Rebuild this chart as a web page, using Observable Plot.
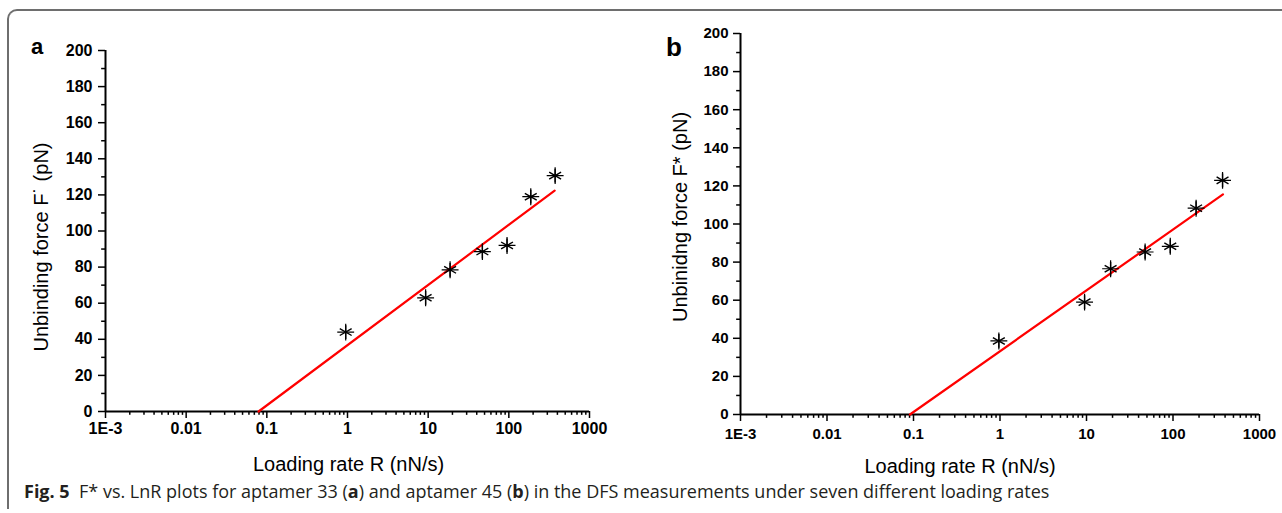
<!DOCTYPE html>
<html>
<head>
<meta charset="utf-8">
<script src="https://cdn.jsdelivr.net/npm/d3@7"></script>
<script src="https://cdn.jsdelivr.net/npm/@observablehq/plot@0.6"></script>
<style>
  html, body { margin: 0; padding: 0; background: #fff; }
  #wrap { position: relative; width: 1282px; height: 513px; overflow: hidden; background: #fff; }
  #frame { position: absolute; left: 7px; top: 9px; width: 1300px; height: 498px;
           border-top: 2px solid #6e6e6e; border-left: 2px solid #6e6e6e; border-top-left-radius: 10px; }
  .panel { position: absolute; top: 0; }
  .plabel { position: absolute; font-family: "Liberation Sans", Arial, sans-serif; font-weight: bold; color: #000; line-height: 1; }
  #caption { position: absolute; left: 24px; top: 479px; font-family: "Open Sans", sans-serif; font-size: 18px; color: #231f20; white-space: nowrap; }
  #caption b { font-weight: 700; }
</style>
</head>
<body>
<div id="wrap">
  <div id="frame"></div>
  <div id="pa" class="panel" style="left:0px"></div>
  <div id="pb" class="panel" style="left:640px"></div>
  <div class="plabel" style="left:31px; top:36px; font-size:22px;">a</div>
  <div class="plabel" style="left:666px; top:34px; font-size:26px;">b</div>
  <div id="caption"><b>Fig. 5</b>&nbsp;&nbsp;F* vs. LnR plots for aptamer 33 (<b>a</b>) and aptamer 45 (<b>b</b>) in the DFS measurements under seven different loading rates</div>
</div>
<script>
// ---- data ----
const xTickValues = [1e-3, 1e-2, 1e-1, 1, 10, 100, 1000];
const xTickLabels = ["1E-3", "0.01", "0.1", "1", "10", "100", "1000"];
const yTickValues = [0, 20, 40, 60, 80, 100, 120, 140, 160, 180, 200];
const yMinorValues = [10, 30, 50, 70, 90, 110, 130, 150, 170, 190];

const rateA  = [0.95, 9.3, 18.7, 47, 95, 187, 375];
const forceA = [44, 63, 78.5, 88.6, 92, 119, 130.7];
const fitRateA  = [0.079, 370];
const fitForceA = [0, 122.4];

const rateB  = [0.97, 9.5, 19, 47.6, 93, 185, 374];
const forceB = [38.6, 59, 76.5, 85.3, 88.3, 108.3, 122.9];
const fitRateB  = [0.091, 378];
const fitForceB = [0, 115.5];

const xTitle = "Loading rate R (nN/s)";
const yTitleA = "Unbinding force F\u02D9 (pN)";
const yTitleB = "Unbinidng force F* (pN)";

// minor log ticks (2..9 in each decade)
const xMinorValues = xTickValues.slice(0, -1).flatMap(d => [2,3,4,5,6,7,8,9].map(k => k * d));
const fmtX = v => xTickLabels[xTickValues.findIndex(t => Math.abs(Math.log10(t) - Math.log10(v)) < 1e-6)];

function panel(cfg) {
  const pts = cfg.rate.map((r, i) => ({r, f: cfg.force[i]}));
  const fit = cfg.fitRate.map((r, i) => ({r, f: cfg.fitForce[i]}));
  return Plot.plot({
    width: cfg.width, height: cfg.height,
    marginLeft: cfg.ml, marginRight: cfg.mr, marginTop: cfg.mt, marginBottom: cfg.mb,
    x: {type: "log", domain: [1e-3, 1e3], label: null},
    y: {domain: [0, 200], label: null},
    style: {fontFamily: "Liberation Sans, Arial, sans-serif", color: "#000", background: "transparent", overflow: "visible"},
    marks: [
      Plot.axisY(yTickValues, {tickSize: cfg.tick, tickPadding: cfg.ypad, fontSize: cfg.fs, fontWeight: "bold", strokeWidth: 1.5, label: null, tickFormat: d => String(d)}),
      Plot.axisY(yMinorValues, {tickSize: cfg.tick * 0.55, strokeWidth: 1.5, label: null, tickFormat: () => ""}),
      Plot.axisX(xTickValues, {tickSize: cfg.tick, tickPadding: cfg.xpad, fontSize: cfg.fs, fontWeight: "bold", strokeWidth: 1.5, label: null, tickFormat: fmtX}),
      Plot.axisX(xMinorValues, {tickSize: cfg.tick * 0.55, strokeWidth: 1.5, label: null, tickFormat: () => ""}),
      Plot.ruleX([1e-3], {stroke: "#000", strokeWidth: 2}),
      Plot.ruleY([0], {stroke: "#000", strokeWidth: 2}),
      Plot.line(fit, {x: "r", y: "f", stroke: "#ff0000", strokeWidth: 2.2}),
      Plot.dot(pts, {x: "r", y: "f", symbol: "asterisk", r: 6.5, stroke: "#000", strokeWidth: 1.4}),
      Plot.dot(pts, {x: "r", y: "f", symbol: "plus", r: 5.5, stroke: "#000", strokeWidth: 1.2}),
      Plot.text([cfg.yTitle], {frameAnchor: "left", textAnchor: "middle", lineAnchor: "middle", rotate: -90, dx: cfg.ytdx, dy: cfg.ytdy, fontSize: cfg.tfs}),
      Plot.text([xTitle], {frameAnchor: "bottom", textAnchor: "middle", lineAnchor: "middle", dx: cfg.xtdx, dy: cfg.xtdy, fontSize: cfg.tfs})
    ]
  });
}

document.getElementById("pa").append(panel({
  rate: rateA, force: forceA, fitRate: fitRateA, fitForce: fitForceA,
  width: 640, height: 480, ml: 105, mr: 51, mt: 50, mb: 69,
  tick: 7, ypad: 6, xpad: 4, fs: 16, tfs: 20,
  yTitle: yTitleA, ytdx: -64, ytdy: 16, xtdx: 1, xtdy: 53
}));

document.getElementById("pb").append(panel({
  rate: rateB, force: forceB, fitRate: fitRateB, fitForce: fitForceB,
  width: 642, height: 480, ml: 100, mr: 23, mt: 33, mb: 66,
  tick: 7, ypad: 5, xpad: 7, fs: 15, tfs: 20,
  yTitle: yTitleB, ytdx: -60, ytdy: -7, xtdx: -40, xtdy: 52
}));
</script>
</body>
</html>
